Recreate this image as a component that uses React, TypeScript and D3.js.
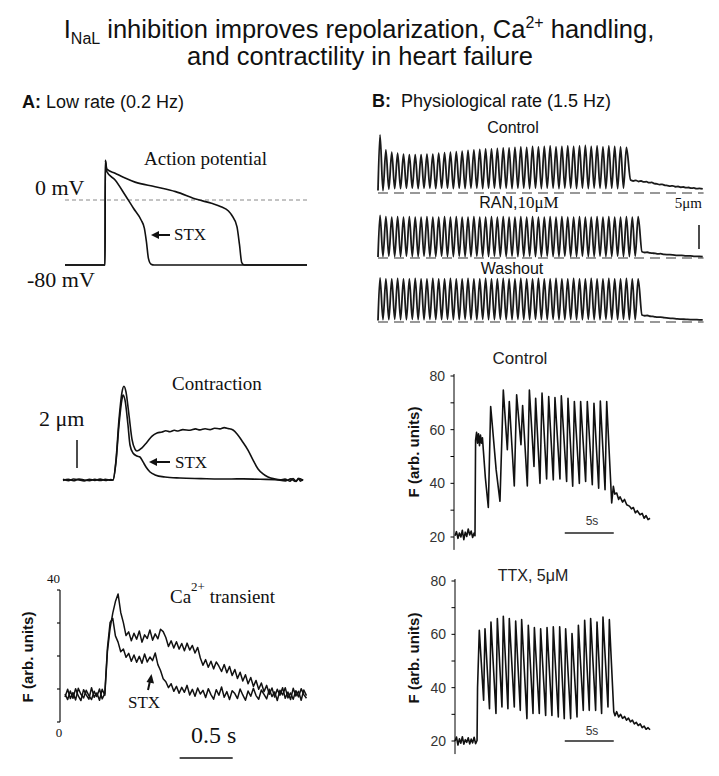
import React from "react";
import * as d3 from "d3";

const SERIF = "'Liberation Serif','Times New Roman',serif";
const SANS = "'Liberation Sans',Arial,sans-serif";

type P = [number, number];

// ---------------- Panel A : action potential (t s, mV)
const apControl: P[] = [[0,-80],[0.1,-80],[0.2,-80],[0.3,-80],[0.377,-80],[0.38,49],[0.394,38],[0.472,33],[0.566,27],[0.66,22],[0.849,16.4],[1.042,10.3],[1.25,0.5],[1.38,-4.1],[1.47,-8.2],[1.54,-13.5],[1.57,-18.5],[1.62,-32.8],[1.644,-55],[1.665,-77],[1.69,-80],[2.28,-80]];
const apStx: P[] = [[0,-80],[0.377,-80],[0.38,49],[0.394,35],[0.472,24.6],[0.566,6.2],[0.645,-10.2],[0.717,-24.6],[0.748,-34.9],[0.767,-51.3],[0.786,-71.8],[0.811,-79],[0.84,-80],[2.28,-80]];

// ---------------- Panel A : contraction (t s, µm)
const ctControl: P[] = [[0,0.05],[0.05,-0.05],[0.1,0.07],[0.15,0],[0.2,-0.06],[0.25,0.05],[0.3,-0.03],[0.35,0.06],[0.4,-0.04],[0.45,0.03],[0.472,0],[0.5,1.43],[0.528,4.29],[0.557,6.3],[0.575,6.7],[0.594,6.3],[0.623,4.6],[0.651,2.9],[0.679,2.2],[0.698,2.07],[0.745,2.3],[0.792,2.7],[0.84,3.14],[0.887,3.36],[0.934,3.43],[0.97,3.52],[1.009,3.45],[1.05,3.55],[1.085,3.5],[1.13,3.6],[1.198,3.55],[1.25,3.65],[1.292,3.58],[1.34,3.66],[1.387,3.6],[1.43,3.7],[1.481,3.65],[1.52,3.74],[1.557,3.68],[1.604,3.57],[1.642,3.29],[1.689,2.79],[1.745,2.14],[1.792,1.43],[1.84,0.79],[1.887,0.43],[1.934,0.21],[2.0,0.07],[2.05,0.02],[2.094,0.06],[2.14,-0.08],[2.17,0.1],[2.2,-0.1],[2.22,0.12],[2.24,-0.08],[2.264,0.05]];
const ctStx: P[] = [[0,-0.03],[0.05,0.05],[0.1,-0.05],[0.15,0.06],[0.2,0],[0.25,-0.05],[0.3,0.05],[0.35,-0.04],[0.4,0.05],[0.45,-0.02],[0.472,0],[0.5,1.29],[0.528,3.93],[0.557,5.8],[0.566,6.07],[0.585,5.7],[0.613,3.93],[0.632,2.5],[0.66,1.93],[0.698,1.71],[0.726,1.64],[0.755,1.29],[0.783,0.93],[0.821,0.57],[0.868,0.36],[0.962,0.21],[1.104,0.14],[1.3,0.1],[1.481,0.07],[1.7,0.08],[1.858,0.05],[2.0,0.03],[2.1,-0.06],[2.15,0.08],[2.19,-0.1],[2.23,0.1],[2.264,-0.05]];

// ---------------- Panel A : Ca2+ transient (sampled every 0.025 s, arb. units)
const CA_A_STEP = 0.025;
const caAControl = [8.5,6.8,9.4,7.2,10.1,7.9,6.5,9.8,8.2,6.9,10.4,7.5,8.8,6.6,9.9,8.1,
  21.5,28.4,33,36.5,38.8,33.2,30.1,26.2,27.3,
  24.6,26.9,25.1,27.6,24.2,26.4,25.3,27.9,24.8,26.7,
  25.2,28.1,27.4,25.6,22.9,24.6,22.4,24.3,22.1,23.8,
  21.6,23.9,21.8,23.2,20.9,22.6,19.4,17.2,18.9,16.6,
  18.4,16.1,18.2,16.9,15.3,17.4,14.9,16.8,14.1,15.9,
  13.2,15.1,12.4,14.3,11.6,13.5,10.8,12.6,9.9,11.8,
  9.2,11.1,8.4,10.3,7.6,9.9,8.1,10.4,7.2,9.1,
  6.8,10.2,7.9,9.3,6.6,9.7,8.0];
const caAStx = [7.6,9.9,7.1,8.9,6.7,10.2,8.4,7.3,9.6,8.0,6.8,9.3,7.7,10.0,7.0,8.6,
  22.5,30.2,31.4,26.1,24.2,21.3,22.1,19.6,20.8,
  18.4,20.3,18.1,19.9,17.8,20.6,18.2,19.7,18.6,20.9,
  17.4,15.6,13.1,12.2,10.4,11.6,9.3,10.8,8.7,10.5,
  9.0,11.1,8.2,9.9,7.8,10.3,8.5,9.6,7.4,10.1,
  8.3,6.9,9.8,8.1,10.6,7.5,9.2,6.8,9.5,8.6,
  7.1,10.0,8.2,6.6,9.4,7.8,10.2,8.0,6.9,9.7,
  8.4,7.0,9.9,7.7,9.1,6.5,9.6,8.2,10.4,7.3,
  8.8,6.9,9.5,7.6,10.1,8.3,7.2];
const caATicks = [0, 10, 20, 30, 40];

// ---------------- Panel B : sarcomere shortening at 1.5 Hz (µm)
const RATE_HZ = 1.5;
const FIRST_BEAT_T = 0.23;
const ctlPeaks = [12.1,9.0,8.5,8.3,8.1,8.0,8.0,8.0,8.1,8.1,8.3,8.4,8.5,8.6,8.7,8.9,9.0,9.1,9.2,9.2,9.3,9.4,9.4,9.5,9.6,9.5,9.7,9.6,9.7,9.8,9.6,9.7,9.8,9.7,9.8,9.9,9.7,9.8,9.6,9.8,9.7,9.6,9.5];
const ctlTroughs = [0.5,0.8,0.9,0.9,1.0,1.0,0.9,1.0,1.0,0.9,1.0,1.0,0.9,1.0,0.9,1.0,1.0,0.9,1.0,1.0,0.9,1.0,0.9,1.0,1.0,0.9,1.0,0.9,1.0,1.0,0.9,1.0,1.0,0.9,1.0,0.9,1.0,1.0,0.9,1.0,0.9,1.0];
const ctlTail: P[] = [[28.7,2.7],[29.0,2.5],[29.3,2.65],[29.6,2.4],[29.9,2.5],[30.2,2.3],[30.5,2.35],[30.8,2.15],[31.1,2.2],[31.4,1.95],[31.7,1.9],[32.0,1.75],[32.3,1.8],[32.6,1.6],[32.9,1.55],[33.2,1.45],[33.5,1.5],[33.8,1.3],[34.1,1.35],[34.4,1.2],[34.7,1.25],[35.0,1.1],[35.3,1.15],[35.6,1.0],[35.9,1.05],[36.2,0.9],[36.5,0.95],[36.9,0.85]];
const ranPeaks = [8.9,8.6,8.5,8.6,8.5,8.6,8.5,8.5,8.6,8.5,8.5,8.6,8.5,8.6,8.5,8.5,8.6,8.5,8.5,8.6,8.5,8.6,8.5,8.5,8.6,8.5,8.6,8.5,8.5,8.6,8.5,8.6,8.5,8.5,8.6,8.5,8.5,8.6,8.5,8.6,8.5,8.5,8.6,8.5,8.6];
const ranTroughs = [0.3,0.35,0.3,0.3,0.35,0.3,0.3,0.35,0.3,0.3,0.35,0.3,0.3,0.35,0.3,0.3,0.35,0.3,0.3,0.35,0.3,0.3,0.35,0.3,0.3,0.35,0.3,0.3,0.35,0.3,0.3,0.35,0.3,0.3,0.35,0.3,0.3,0.35,0.3,0.3,0.35,0.3,0.3,0.35];
const ranTail: P[] = [[30.0,1.3],[30.3,1.15],[30.6,1.2],[30.9,1.05],[31.2,1.0],[31.5,0.95],[31.8,0.85],[32.1,0.9],[32.5,0.75],[33.0,0.7],[33.5,0.65],[34.0,0.55],[34.5,0.55],[35.0,0.45],[35.5,0.45],[36.0,0.35],[36.5,0.35],[36.9,0.3]];
const washPeaks = [9.2,9.0,9.0,9.1,9.0,9.0,9.1,9.0,9.0,9.1,9.0,9.0,9.1,9.0,9.0,9.1,9.0,9.0,9.1,9.0,9.0,9.1,9.0,9.0,9.1,9.0,9.0,9.1,9.0,9.0,9.1,9.0,9.0,9.1,9.0,9.0,9.1,9.0,9.0,9.1,9.0,9.0,9.1,9.0,9.0];
const washTroughs = [0.5,0.5,0.55,0.5,0.5,0.55,0.5,0.5,0.55,0.5,0.5,0.55,0.5,0.5,0.55,0.5,0.5,0.55,0.5,0.5,0.55,0.5,0.5,0.55,0.5,0.5,0.55,0.5,0.5,0.55,0.5,0.5,0.55,0.5,0.5,0.55,0.5,0.5,0.55,0.5,0.5,0.55,0.5,0.5];
const washTail: P[] = [[30.0,1.45],[30.3,1.3],[30.6,1.35],[30.9,1.2],[31.2,1.15],[31.5,1.05],[31.8,1.0],[32.1,1.0],[32.5,0.9],[33.0,0.8],[33.5,0.75],[34.0,0.65],[34.5,0.6],[35.0,0.55],[35.5,0.5],[36.0,0.5],[36.5,0.45],[36.9,0.45]];

// ---------------- Panel B : Ca2+ fluorescence (t s, F arb. units)
const caBControl: P[] = [[0,20.5],[0.15,22],[0.3,19.5],[0.45,21.5],[0.6,20],[0.75,22.5],[0.9,19],[1.05,21.8],[1.2,20.2],[1.35,23],[1.5,20.8],[1.65,22.2],[1.8,19.8],[1.95,21.5],[2.04,20.5],
  [2.1,56],[2.2,59],[2.3,55],[2.4,58.5],[2.5,54],[2.6,58],[2.7,55],[2.8,57],[2.9,52],[3.1,42],[3.4,31],[3.64,68.6],[3.8,62],[4.2,45],[4.59,33.3],[4.93,74.8],[5.34,52.5],[5.54,70.5],[6.05,39],[6.29,73],[6.73,54.4],[6.9,69],[7.38,39],[7.59,74.8],[8.06,46.3],[8.23,71.7],[8.67,40],[8.88,73.6],[9.35,41.6],[9.56,72.3],[10.03,41.3],[10.2,72],[10.71,41.6],[10.85,72.6],[11.39,40.7],[11.53,71.7],[12.01,38.9],[12.18,70.5],[12.69,40],[12.82,70.5],[13.33,40.7],[13.5,70.5],[14.01,39.5],[14.18,69.8],[14.66,38.2],[14.83,70.7],[15.31,37.6],[15.48,70.5],
  [15.99,32.7],[16.16,38.9],[16.3,36],[16.5,36.4],[16.7,34],[16.84,35],[17.1,33],[17.3,34],[17.52,32],[17.8,31.5],[18.0,30.5],[18.2,31],[18.4,29],[18.6,29.8],[18.88,28.3],[19.1,28.8],[19.3,27],[19.5,28],[19.7,26.5],[19.9,27]];
const caBTtx: P[] = [[0,20],[0.15,21.5],[0.3,18.5],[0.45,20.8],[0.6,19.2],[0.75,21.6],[0.9,18.8],[1.05,20.5],[1.2,19.5],[1.35,21.2],[1.5,18.9],[1.65,20.7],[1.8,19.3],[1.95,21.4],[2.1,19],[2.25,20.2],[2.3,40],
  [2.48,61.5],[2.92,35.3],[3.06,62.1],[3.52,32.1],[3.67,64.6],[4.18,30.3],[4.32,65.9],[4.79,32.8],[4.93,66.8],[5.4,32.1],[5.54,65.9],[6.05,32.8],[6.19,65],[6.66,31.5],[6.8,65.5],[7.34,28.4],[7.48,63.4],[7.96,30.3],[8.1,62.5],[8.6,30.3],[8.74,62.1],[9.25,29.6],[9.39,62.5],[9.89,29.6],[10.03,62.8],[10.54,29.0],[10.68,62.8],[11.15,28.4],[11.29,62.1],[11.8,28.4],[11.94,60.3],[12.45,29.0],[12.59,63.4],[13.09,31.5],[13.23,65.3],[13.7,31.5],[13.84,65.9],[14.35,31.5],[14.49,64.6],[14.96,30.3],[15.1,66.5],[15.61,32.8],[15.75,65.5],
  [16.2,31],[16.33,29.5],[16.5,31],[16.7,29],[16.9,30],[17.1,28.5],[17.3,29.2],[17.5,27.8],[17.7,28.6],[17.9,27.2],[18.1,27.8],[18.3,26.4],[18.5,27],[18.7,25.8],[18.9,26.4],[19.1,25],[19.3,25.6],[19.5,24.4],[19.7,25],[19.9,24.2]];
const caBTicks = [20, 30, 40, 50, 60, 70, 80];
const caBLabels = [20, 40, 60, 80];

function beatTrace(start: number, peaks: number[], troughs: number[], tail: P[]): P[] {
  const period = 1 / RATE_HZ;
  const pts: P[] = [[0, start]];
  peaks.forEach((p, i) => {
    const tp = FIRST_BEAT_T + i * period;
    pts.push([tp, p]);
    if (i < troughs.length) pts.push([tp + period / 2, troughs[i]]);
  });
  return pts.concat(tail);
}

function mkLine(xs: d3.ScaleLinear<number, number>, ys: d3.ScaleLinear<number, number>, curve: d3.CurveFactory = d3.curveLinear) {
  return d3.line<P>().x(d => xs(d[0])).y(d => ys(d[1])).curve(curve);
}

export default function App() {
  // Panel A scales
  const apX = d3.scaleLinear().domain([0, 2.28]).range([65, 307]);
  const apY = d3.scaleLinear().domain([-80, 0]).range([265, 200]);
  const ctX = d3.scaleLinear().domain([0, 2.264]).range([63, 303]);
  const ctY = d3.scaleLinear().domain([0, 2]).range([480, 452]);
  const caAX = d3.scaleLinear().domain([0, 2.28]).range([65, 307]);
  const caAY = d3.scaleLinear().domain([0, 40]).range([722, 590]);

  // Panel B scales
  const bX = d3.scaleLinear().domain([0, 37]).range([378, 703.6]);
  const rowCtl = d3.scaleLinear().domain([0, 5]).range([193, 169]);
  const rowRan = d3.scaleLinear().domain([0, 5]).range([258, 234]);
  const rowWash = d3.scaleLinear().domain([0, 5]).range([322, 298]);
  const cbX = d3.scaleLinear().domain([0, 20]).range([455, 651]);
  const cbYc = d3.scaleLinear().domain([20, 80]).range([537, 376]);
  const cbYt = d3.scaleLinear().domain([20, 80]).range([741, 581]);

  const apLine = mkLine(apX, apY, d3.curveMonotoneX);
  const ctLine = mkLine(ctX, ctY, d3.curveMonotoneX);
  const caALine = mkLine(caAX, caAY);
  const caAControlPts: P[] = caAControl.map((v, i) => [i * CA_A_STEP, v]);
  const caAStxPts: P[] = caAStx.map((v, i) => [i * CA_A_STEP, v]);

  const rows = [
    { ys: rowCtl, pts: beatTrace(0.5, ctlPeaks, ctlTroughs, ctlTail) },
    { ys: rowRan, pts: beatTrace(0.2, ranPeaks, ranTroughs, ranTail) },
    { ys: rowWash, pts: beatTrace(0.3, washPeaks, washTroughs, washTail) },
  ];

  const bAxis = (ys: d3.ScaleLinear<number, number>, x0: number, bottomVal: number) => (
    <g>
      <line x1={x0} x2={x0} y1={ys(80) - 2} y2={ys(bottomVal)} stroke="#000" strokeWidth={1} />
      {caBTicks.map(t => (
        <line key={t} x1={x0 - 3.5} x2={x0} y1={ys(t)} y2={ys(t)} stroke="#000" strokeWidth={1} />
      ))}
      {caBLabels.map(t => (
        <text key={"l" + t} x={x0 - 9} y={ys(t) + 5} textAnchor="end" fontFamily={SANS} fontSize={14} fill="#333">{t}</text>
      ))}
    </g>
  );

  return (
    <svg width={719} height={776} style={{ position: "absolute", left: 0, top: 0, background: "#fff" }}>
      <rect width={719} height={776} fill="#fff" />
      {/* Title */}
      <text x={359} y={38} textAnchor="middle" fontFamily={SANS} fontSize={25.5} fill="#111">
        I<tspan fontSize={16} dy={6}>NaL</tspan><tspan dy={-6}> inhibition improves repolarization, Ca</tspan><tspan fontSize={16} dy={-10}>2+</tspan><tspan dy={10}> handling,</tspan>
      </text>
      <text x={360} y={65} textAnchor="middle" fontFamily={SANS} fontSize={25.5} fill="#111">and contractility in heart failure</text>

      <text x={22} y={108} fontFamily={SANS} fontSize={18} fill="#111"><tspan fontWeight="bold">A:</tspan> Low rate (0.2 Hz)</text>
      <text x={372} y={107} fontFamily={SANS} fontSize={18} fill="#111"><tspan fontWeight="bold">B:</tspan><tspan dx={10}>Physiological rate (1.5 Hz)</tspan></text>

      {/* ---- A: action potential ---- */}
      <line x1={65} x2={308} y1={apY(0)} y2={apY(0)} stroke="#888" strokeWidth={1} strokeDasharray="4,3" />
      <path d={apLine(apControl) || ""} fill="none" stroke="#111" strokeWidth={1.6} />
      <path d={apLine(apStx) || ""} fill="none" stroke="#111" strokeWidth={1.6} />
      <text x={144} y={165} fontFamily={SERIF} fontSize={19} fill="#111">Action potential</text>
      <text x={35} y={195} fontFamily={SERIF} fontSize={22} fill="#111">0 mV</text>
      <text x={27} y={287} fontFamily={SERIF} fontSize={22} fill="#111">-80 mV</text>
      <line x1={157} x2={170} y1={235} y2={235} stroke="#111" strokeWidth={2} />
      <polygon points="151,235 159,231 159,239" fill="#111" />
      <text x={174} y={240} fontFamily={SERIF} fontSize={17} fill="#111">STX</text>

      {/* ---- A: contraction ---- */}
      <path d={ctLine(ctControl) || ""} fill="none" stroke="#111" strokeWidth={1.6} />
      <path d={ctLine(ctStx) || ""} fill="none" stroke="#111" strokeWidth={1.6} />
      <text x={172} y={390} fontFamily={SERIF} fontSize={19} fill="#111">Contraction</text>
      <text x={39} y={426} fontFamily={SERIF} fontSize={22} fill="#111">2 μm</text>
      <line x1={77} x2={77} y1={ctY(0) - 12} y2={ctY(0) - 12 - (ctY(0) - ctY(2))} stroke="#111" strokeWidth={1.5} />
      <line x1={155} x2={170} y1={462} y2={462} stroke="#111" strokeWidth={2} />
      <polygon points="149,462 157,458 157,466" fill="#111" />
      <text x={175} y={468} fontFamily={SERIF} fontSize={17} fill="#111">STX</text>

      {/* ---- A: Ca transient ---- */}
      <line x1={60} x2={60} y1={caAY(40)} y2={caAY(0)} stroke="#111" strokeWidth={1.2} />
      {caATicks.map(t => (
        <line key={t} x1={57} x2={60} y1={caAY(t)} y2={caAY(t)} stroke="#111" strokeWidth={1.2} />
      ))}
      <text x={60} y={583} textAnchor="end" fontFamily={SERIF} fontSize={13} fill="#111">{caATicks[4]}</text>
      <text x={59} y={737} textAnchor="middle" fontFamily={SERIF} fontSize={13} fill="#111">{caATicks[0]}</text>
      <text transform="translate(33,657) rotate(-90)" textAnchor="middle" fontFamily={SANS} fontWeight="bold" fontSize={15} fill="#111">F (arb. units)</text>
      <path d={caALine(caAControlPts) || ""} fill="none" stroke="#111" strokeWidth={1.5} strokeLinejoin="round" />
      <path d={caALine(caAStxPts) || ""} fill="none" stroke="#111" strokeWidth={1.5} strokeLinejoin="round" />
      <text x={170} y={603} fontFamily={SERIF} fontSize={19} fill="#111">Ca<tspan fontSize={13} dy={-12}>2+</tspan><tspan dy={12}> transient</tspan></text>
      <line x1={148} x2={150} y1={690} y2={681} stroke="#111" strokeWidth={2} />
      <polygon points="151.5,674 146.5,682 154,683.5" fill="#111" />
      <text x={128} y={708} fontFamily={SERIF} fontSize={17} fill="#111">STX</text>
      <text x={191} y={743} fontFamily={SERIF} fontSize={24} fill="#111">0.5 s</text>
      <line x1={caAX(1.08)} x2={caAX(1.58)} y1={758} y2={758} stroke="#111" strokeWidth={1.6} />

      {/* ---- B: contraction traces ---- */}
      <text x={513} y={133} textAnchor="middle" fontFamily={SANS} fontSize={16} fill="#111">Control</text>
      <text x={519} y={208} textAnchor="middle" fontFamily={SANS} fontSize={16} fill="#111">RAN,<tspan fontFamily={SERIF} fontSize={17}>10μM</tspan></text>
      <text x={512} y={274} textAnchor="middle" fontFamily={SANS} fontSize={16} fill="#111">Washout</text>
      <text x={702} y={208} textAnchor="end" fontFamily={SERIF} fontSize={15} fill="#111">5μm</text>
      <line x1={699} x2={699} y1={249} y2={249 - (rowRan(0) - rowRan(5))} stroke="#111" strokeWidth={1.5} />
      {rows.map((r, i) => (
        <g key={i}>
          <line x1={bX(0)} x2={bX(37)} y1={r.ys(0)} y2={r.ys(0)} stroke="#777" strokeWidth={1.3} strokeDasharray="10,6" />
          <path d={mkLine(bX, r.ys, d3.curveMonotoneX)(r.pts) || ""} fill="none" stroke="#1a1a1a" strokeWidth={1.8} />
        </g>
      ))}

      {/* ---- B: Ca fluorescence, Control ---- */}
      <text x={520} y={364} textAnchor="middle" fontFamily={SANS} fontSize={17} fill="#222">Control</text>
      {bAxis(cbYc, 454, 15.2)}
      <text transform="translate(419,452) rotate(-90)" textAnchor="middle" fontFamily={SANS} fontWeight="bold" fontSize={15} fill="#111">F (arb. units)</text>
      <path d={mkLine(cbX, cbYc)(caBControl) || ""} fill="none" stroke="#111" strokeWidth={1.6} strokeLinejoin="round" />
      <text x={592} y={525} textAnchor="middle" fontFamily={SANS} fontSize={12} fill="#333">5s</text>
      <line x1={cbX(11.2)} x2={cbX(16.2)} y1={533} y2={533} stroke="#222" strokeWidth={1.3} />

      {/* ---- B: Ca fluorescence, TTX ---- */}
      <text x={533} y={581} textAnchor="middle" fontFamily={SANS} fontSize={16} fill="#222">TTX, 5μM</text>
      {bAxis(cbYt, 455, 15.1)}
      <text transform="translate(419,658) rotate(-90)" textAnchor="middle" fontFamily={SANS} fontWeight="bold" fontSize={15} fill="#111">F (arb. units)</text>
      <path d={mkLine(cbX, cbYt)(caBTtx) || ""} fill="none" stroke="#111" strokeWidth={1.6} strokeLinejoin="round" />
      <text x={592} y={735} textAnchor="middle" fontFamily={SANS} fontSize={12} fill="#333">5s</text>
      <line x1={cbX(11.2)} x2={cbX(16.2)} y1={741} y2={741} stroke="#222" strokeWidth={1.3} />
    </svg>
  );
}
